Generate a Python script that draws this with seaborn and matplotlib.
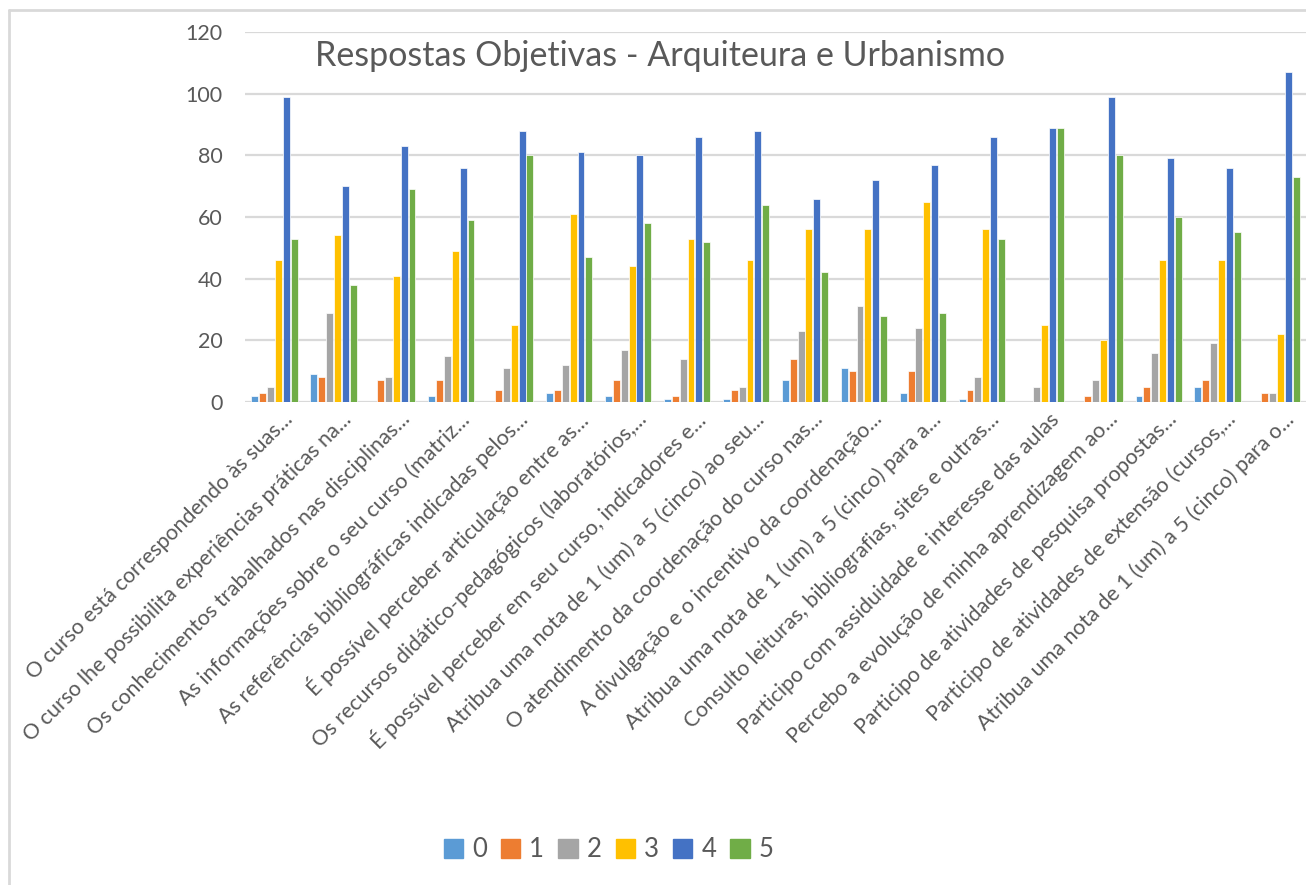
import pandas as pd
import matplotlib
matplotlib.use("Agg")
from matplotlib import pyplot as plt
from matplotlib.lines import Line2D
import seaborn as sns

# respostas por pergunta (nota 0..5)
perguntas = [
    "O curso está correspondendo às suas...",
    "O curso lhe possibilita experiências práticas na...",
    "Os conhecimentos trabalhados nas disciplinas...",
    "As informações sobre o seu curso (matriz...",
    "As referências bibliográficas indicadas pelos...",
    "É possível perceber articulação entre as...",
    "Os recursos didático-pedagógicos (laboratórios,...",
    "É possível perceber em seu curso, indicadores e...",
    "Atribua uma nota de 1 (um) a 5 (cinco) ao seu...",
    "O atendimento da coordenação do curso nas...",
    "A divulgação e o incentivo da coordenação...",
    "Atribua uma nota de 1 (um) a 5 (cinco) para a...",
    "Consulto leituras, bibliografias, sites e outras...",
    "Participo com assiduidade e interesse das aulas",
    "Percebo a evolução de minha aprendizagem ao...",
    "Participo de atividades de pesquisa propostas...",
    "Participo de atividades de extensão (cursos,...",
    "Atribua uma nota de 1 (um) a 5 (cinco) para o...",
]
notas = ["0", "1", "2", "3", "4", "5"]

nota0 = [2, 9, 0, 2, 0, 3, 2, 1, 1, 7, 11, 3, 1, 0, 0, 2, 5, 0]
nota1 = [3, 8, 7, 7, 4, 4, 7, 2, 4, 14, 10, 10, 4, 0, 2, 5, 7, 3]
nota2 = [5, 29, 8, 15, 11, 12, 17, 14, 5, 23, 31, 24, 8, 5, 7, 16, 19, 3]
nota3 = [46, 54, 41, 49, 25, 61, 44, 53, 46, 56, 56, 65, 56, 25, 20, 46, 46, 22]
nota4 = [99, 70, 83, 76, 88, 81, 80, 86, 88, 66, 72, 77, 86, 89, 99, 79, 76, 107]
nota5 = [53, 38, 69, 59, 80, 47, 58, 52, 64, 42, 28, 29, 53, 89, 80, 60, 55, 73]

cores = ["#5B9BD5", "#ED7D31", "#A5A5A5", "#FFC000", "#4472C4", "#70AD47"]

rows = []
for nota, vals in zip(notas, [nota0, nota1, nota2, nota3, nota4, nota5]):
    for p, v in zip(perguntas, vals):
        rows.append({"pergunta": p, "nota": nota, "qtd": v})
df = pd.DataFrame(rows)

sns.set_style("white")
plt.rcParams["font.family"] = ["Lato", "DejaVu Sans"]
txt = "#595959"

fig = plt.figure(figsize=(13.06, 8.85), dpi=100)
ax = fig.add_axes([0.1876, 0.5458, 0.8124, 0.418])

sns.barplot(data=df, x="pergunta", y="qtd", hue="nota", order=perguntas,
            hue_order=notas, palette=cores, saturation=1, width=0.8, gap=0.12,
            edgecolor="white", linewidth=0.5, ax=ax, legend=True)

ax.set_ylim(0, 120)
ax.set_yticks(range(0, 121, 20))
ax.set_xlim(-0.5, len(perguntas) - 0.5)
ax.yaxis.grid(True, color="#D9D9D9", linewidth=1.6)
ax.set_axisbelow(True)
for s in ax.spines.values():
    s.set_visible(False)
ax.set_xlabel("")
ax.set_ylabel("")
ax.tick_params(axis="y", length=0, pad=16, labelsize=15.5, labelcolor=txt)
ax.tick_params(axis="x", length=0, pad=6)
ax.set_xticks(range(len(perguntas)))
ax.set_xticklabels(perguntas, rotation=45, ha="right", va="center",
                   rotation_mode="anchor", fontsize=15.5, color=txt)
for lab in ax.get_xticklabels():
    lab.set_transform(lab.get_transform() + matplotlib.transforms.ScaledTranslation(0.15, -0.06, fig.dpi_scale_trans))

fig.text(0.505, 0.937, "Respostas Objetivas - Arquiteura e Urbanismo",
         ha="center", va="center", fontsize=24.5, color=txt)

ax.get_legend().remove()
handles = [plt.Rectangle((0, 0), 1, 1, color=c) for c in cores]
fig.legend(handles, notas, loc="center", bbox_to_anchor=(0.466, 0.04), ncol=6,
           frameon=False, fontsize=18.5, handlelength=0.75, handleheight=0.75,
           handletextpad=0.35, columnspacing=0.55, labelcolor=txt)

# moldura do gráfico
fig.add_artist(Line2D([0.007, 1.0], [0.989, 0.989], color="#D9D9D9", linewidth=2, transform=fig.transFigure))
fig.add_artist(Line2D([0.007, 0.007], [0.0, 0.989], color="#D9D9D9", linewidth=2, transform=fig.transFigure))

fig.savefig("out.png", dpi=100)
